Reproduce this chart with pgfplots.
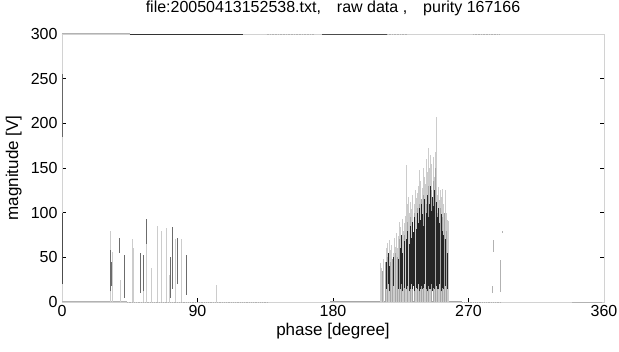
\documentclass[border=0pt]{standalone}
\usepackage{pgfplots}
\pgfplotsset{compat=1.18}
\usepackage{fontspec}
\setmainfont{Liberation Sans}
\begin{document}
\begin{tikzpicture}
\useasboundingbox (-62pt,-50pt) rectangle (557pt,302pt);
\begin{axis}[
  at={(0,0)}, anchor=south west,
  scale only axis, width=542pt, height=268pt,
  xmin=0, xmax=360, ymin=0, ymax=300,
  xtick={0,90,180,270,360}, ytick={0,50,100,150,200,250,300},
  xtick pos=bottom, ytick pos=both,
  tick align=inside, major tick length=4pt,
  tick style={black, line width=0.5pt},
  axis line style={gray!35, line width=0.4pt},
  unbounded coords=jump,
  /pgf/number format/assume math mode=true,
  ticklabel style={font=\fontsize{16}{18}\selectfont},
  yticklabel style={xshift=-1pt},
  title={file:20050413152538.txt,\quad raw data ,\quad purity 167166},
  title style={font=\fontsize{16}{18}\selectfont, at={(axis description cs:0.5,1.056)}, anchor=base, inner sep=0pt},
  xlabel={phase [degree]},
  xlabel style={font=\fontsize{17}{19}\selectfont, at={(axis description cs:0.5,-0.11)}, anchor=center},
  ylabel={magnitude [V]},
  ylabel style={font=\fontsize{17}{19}\selectfont, at={(axis description cs:-0.089,0.5)}, anchor=center},
  clip=false,
]
% baseline and top traces
\addplot[gray!60, line width=1pt] coordinates {(0,0) (43,0)};
\addplot[gray!60, line width=0.8pt, densely dotted] coordinates {(43,0) (137,0)};
\addplot[gray!70, line width=1pt] coordinates {(178,0) (266,0)};
\addplot[gray!60, line width=0.8pt, densely dotted] coordinates {(266,0) (292,0)};
\addplot[gray!60, line width=0.8pt] coordinates {(339,0) (359,0)};
\addplot[gray!60, line width=1pt] coordinates {(0,300) (45,300)};
\addplot[black!80, line width=0.6pt] coordinates {(45,300) (120,300)};
\addplot[gray!60, line width=0.6pt, densely dotted] coordinates {(136,300) (167,300)};
\addplot[black!70, line width=0.6pt] coordinates {(173,300) (216,300)};
\addplot[gray!60, line width=0.6pt, densely dotted] coordinates {(216,300) (229,300)};
\addplot[gray!60, line width=0.6pt, densely dotted] coordinates {(273,300) (291,300)};
\addplot[black!70, line width=0.7pt] coordinates {(0,20) (0,100)};
\addplot[black!60, line width=0.6pt] coordinates {(0,185) (0,255)};
% left cluster, light stems
\addplot[ycomb, gray!40, line width=0.6pt, mark=none] coordinates {
(31.9,79) (33.4,56) (38.5,25) (46.9,70) (54.0,40) (56.2,93) (63.5,85)
(66.0,80) (69.5,83) (71.0,30) (75.0,70) (79.0,70) (102.7,19) (47.5,60) (59,38)
};
% left cluster, dark stems
\addplot[gray!85!black, line width=0.45pt, mark=none] coordinates {
(31.9,12) (31.9,58) (31.9,nan) (37.8,55) (37.8,72) (37.8,nan)
(41.4,5) (41.4,53) (41.4,nan) (51.8,10) (51.8,55) (51.8,nan)
(54.0,12) (54.0,53) (54.0,nan) (73.0,15) (73.0,84) (73.0,nan)
(72.0,5) (72.0,50) (72.0,nan) (76.6,20) (76.6,72) (76.6,nan)
(82.8,8) (82.8,53) (82.8,nan) (32.6,18) (32.6,45) (32.6,nan)
(56.2,65) (56.2,93) (56.2,nan)
};
% right cluster, light envelope
\addplot[ycomb, gray!40, line width=0.6pt, mark=none] coordinates {
(211.5,44) (212.3,38) (213.4,48) (214.5,40) (215.2,60) (216.0,66) (216.8,52)
(217.5,69) (218.3,58) (219.0,64) (219.8,55) (220.5,72) (221.3,62) (222.0,77)
(222.8,60) (223.5,74) (224.3,90) (225.0,84) (225.8,93) (226.5,80) (227.3,88)
(228.0,96) (228.4,153) (229.2,110) (230.0,118) (230.8,100) (231.5,112) (232.3,104)
(233.0,120) (233.8,110) (234.5,125) (235.3,116) (236.0,122) (236.8,130) (237.5,148)
(238.3,135) (239.0,128) (239.8,150) (240.5,140) (241.3,132) (242.0,160) (242.8,145)
(243.2,172) (244.0,150) (244.8,165) (245.5,155) (246.3,162) (247.0,140) (247.8,168)
(248.3,207) (249.0,120) (249.8,129) (250.5,114) (251.3,125) (252.0,118) (252.8,127)
(253.5,110) (254.3,125) (255.0,100) (255.8,92) (256.5,91)
};
% right cluster, medium stems
\addplot[ycomb, gray!70, line width=0.45pt, mark=none] coordinates {
(213.0,35) (214.8,45) (216.3,50) (218.0,45) (219.5,48) (221.0,55) (222.5,50)
(224.0,70) (225.5,65) (227.0,75) (229.5,90) (231.0,95) (232.8,85) (234.0,100)
(235.8,105) (237.0,110) (238.8,115) (240.0,120) (241.8,110) (243.5,130) (245.0,125)
(246.5,135) (248.0,150) (249.5,100) (251.0,105) (252.5,95) (254.0,100) (255.5,80)
};
% right cluster, dark stems (segments lo..hi)
\addplot[black!85, line width=0.38pt, mark=none] coordinates {
(215.5,15) (215.5,45) (215.5,nan) (216.5,20) (216.5,55) (216.5,nan)
(217.3,12) (217.3,40) (217.3,nan) (220.0,18) (220.0,50) (220.0,nan)
(223.0,15) (223.0,48) (223.0,nan) (224.6,14) (224.6,60) (224.6,nan)
(225.3,20) (225.3,75) (225.3,nan) (226.2,12) (226.2,55) (226.2,nan)
(227.6,16) (227.6,68) (227.6,nan) (228.6,14) (228.6,70) (228.6,nan)
(229.0,18) (229.0,80) (229.0,nan) (230.3,12) (230.3,65) (230.3,nan)
(231.2,15) (231.2,85) (231.2,nan) (232.0,20) (232.0,72) (232.0,nan)
(232.6,14) (232.6,90) (232.6,nan) (233.4,18) (233.4,78) (233.4,nan)
(234.2,12) (234.2,95) (234.2,nan) (235.0,16) (235.0,82) (235.0,nan)
(235.6,14) (235.6,100) (235.6,nan) (236.4,20) (236.4,88) (236.4,nan)
(237.2,12) (237.2,105) (237.2,nan) (238.0,15) (238.0,92) (238.0,nan)
(238.6,18) (238.6,110) (238.6,nan) (239.4,14) (239.4,98) (239.4,nan)
(240.2,16) (240.2,85) (240.2,nan) (240.8,20) (240.8,115) (240.8,nan)
(241.6,14) (241.6,100) (241.6,nan) (242.4,12) (242.4,120) (242.4,nan)
(243.0,18) (243.0,95) (243.0,nan) (243.8,15) (243.8,110) (243.8,nan)
(244.4,14) (244.4,130) (244.4,nan) (245.2,20) (245.2,102) (245.2,nan)
(246.0,12) (246.0,118) (246.0,nan) (246.8,16) (246.8,108) (246.8,nan)
(247.4,14) (247.4,125) (247.4,nan) (248.6,18) (248.6,112) (248.6,nan)
(249.2,15) (249.2,95) (249.2,nan) (250.0,14) (250.0,105) (250.0,nan)
(250.8,20) (250.8,88) (250.8,nan) (251.6,12) (251.6,98) (251.6,nan)
(252.3,16) (252.3,80) (252.3,nan) (253.2,14) (253.2,75) (253.2,nan)
(254.6,18) (254.6,70) (254.6,nan) (256.0,15) (256.0,55) (256.0,nan)
};
% stray stems near 285-292
\addplot[gray!60, line width=0.6pt, mark=none] coordinates {
(286.4,56) (286.4,69) (286.4,nan) (290.8,11) (290.8,47) (290.8,nan)
(292.2,77) (292.2,79) (292.2,nan) (285.6,10) (285.6,18) (285.6,nan)
};
\end{axis}
\end{tikzpicture}
\end{document}
